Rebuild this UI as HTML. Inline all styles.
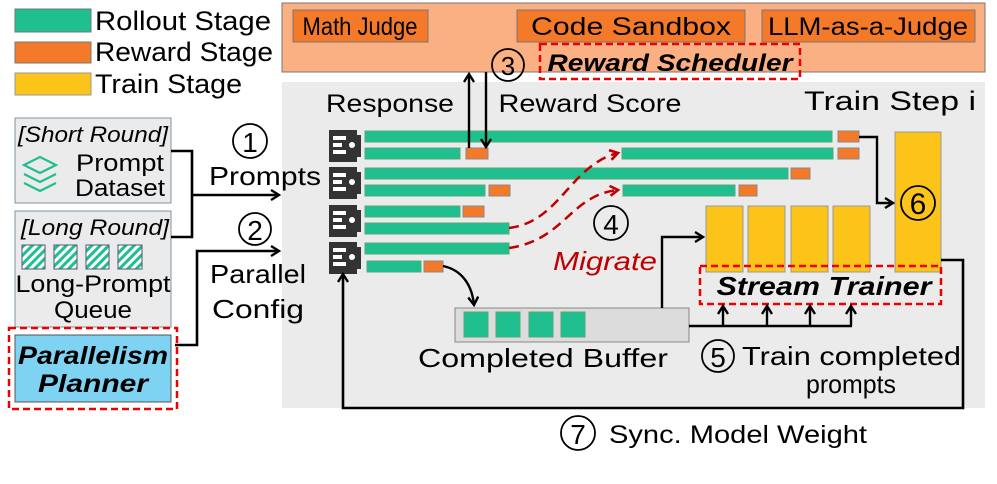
<!DOCTYPE html>
<html><head><meta charset="utf-8"><style>
html,body{margin:0;padding:0;background:#fff;}
svg{display:block;font-family:"Liberation Sans",sans-serif;}
</style></head><body>
<svg width="997" height="484" viewBox="0 0 997 484" xmlns="http://www.w3.org/2000/svg">
<defs>
<marker id="ah" markerWidth="12" markerHeight="12" refX="9" refY="6" orient="auto" markerUnits="userSpaceOnUse"><path d="M1,1 L9,6 L1,11" fill="none" stroke="#000" stroke-width="2.4"/></marker>
<marker id="ahr" markerWidth="12" markerHeight="12" refX="9" refY="6" orient="auto" markerUnits="userSpaceOnUse"><path d="M1,1 L9,6 L1,11" fill="none" stroke="#c00000" stroke-width="2.6"/></marker>
<pattern id="stripe" width="6" height="6" patternUnits="userSpaceOnUse" patternTransform="rotate(45)"><rect width="6" height="6" fill="#1fbf8f"/><rect width="3" height="6" fill="#fff"/></pattern>
<g id="srv"><path d="M0,0 h28 v5 h4 v22 h-4 v5 h-28 z" fill="#333"/><rect x="4" y="6" width="13" height="4" fill="#fff"/><rect x="4" y="13" width="9" height="4" fill="#fff"/><rect x="4" y="20" width="13" height="4" fill="#fff"/><circle cx="23" cy="15" r="3" fill="#fff"/></g>
</defs>

<!-- legend -->
<rect x="15" y="9" width="76" height="23" fill="#1fbf8f" stroke="#777"/>
<rect x="15" y="42" width="76" height="21" fill="#f47a2a" stroke="#777"/>
<rect x="15" y="73" width="76" height="22" fill="#fcc419" stroke="#999"/>
<g font-size="27" fill="#000" lengthAdjust="spacingAndGlyphs">
<text x="95" y="30" textLength="176" lengthAdjust="spacingAndGlyphs">Rollout Stage</text>
<text x="95" y="61" textLength="178" lengthAdjust="spacingAndGlyphs">Reward Stage</text>
<text x="95" y="93" textLength="147" lengthAdjust="spacingAndGlyphs">Train Stage</text>
</g>

<!-- top reward box -->
<rect x="282" y="3" width="703" height="69" fill="#fbb083" stroke="#777"/>
<rect x="293" y="10" width="135" height="32" fill="#f47a2a" stroke="#777"/>
<rect x="517" y="10" width="228" height="32" fill="#f47a2a" stroke="#777"/>
<rect x="762" y="10" width="213" height="32" fill="#f47a2a" stroke="#777"/>
<g font-size="25" text-anchor="middle">
<text x="360" y="35" textLength="115" lengthAdjust="spacingAndGlyphs">Math Judge</text>
<text x="631" y="35" textLength="200" lengthAdjust="spacingAndGlyphs">Code Sandbox</text>
<text x="868" y="35" textLength="200" lengthAdjust="spacingAndGlyphs">LLM-as-a-Judge</text>
</g>
<rect x="540" y="44" width="260" height="35" fill="none" stroke="#e00" stroke-width="2.5" stroke-dasharray="7,4"/>
<text x="670" y="71" font-size="24" font-weight="bold" font-style="italic" text-anchor="middle" textLength="245" lengthAdjust="spacingAndGlyphs">Reward Scheduler</text>

<!-- grey main -->
<rect x="282" y="82" width="703" height="326" fill="#ebebeb"/>
<text x="390" y="112" font-size="25" text-anchor="middle" textLength="128" lengthAdjust="spacingAndGlyphs">Response</text>
<text x="590" y="112" font-size="25" text-anchor="middle" textLength="183" lengthAdjust="spacingAndGlyphs">Reward Score</text>
<text x="890" y="110" font-size="27" text-anchor="middle" textLength="172" lengthAdjust="spacingAndGlyphs">Train Step i</text>
<circle cx="508" cy="65" r="16" fill="none" stroke="#000" stroke-width="1.8"/>
<text x="508" y="75" font-size="26" text-anchor="middle">3</text>

<!-- servers -->
<use href="#srv" x="329" y="130"/>
<use href="#srv" x="329" y="167"/>
<use href="#srv" x="329" y="205"/>
<use href="#srv" x="329" y="242"/>

<g fill="#1fbf8f" stroke="#5a7" stroke-width="1">
<rect x="365" y="131" width="467" height="11"/>
<rect x="365" y="148" width="95" height="11"/>
<rect x="622" y="148" width="211" height="11"/>
<rect x="365" y="168" width="423" height="11"/>
<rect x="365" y="185" width="120" height="11"/>
<rect x="623" y="185" width="112" height="11"/>
<rect x="365" y="206" width="95" height="11"/>
<rect x="365" y="223" width="144" height="11"/>
<rect x="365" y="243" width="144" height="11"/>
<rect x="367" y="261" width="54" height="11"/>
</g>
<g fill="#f47a2a" stroke="#888" stroke-width="1">
<rect x="838" y="131" width="21" height="11"/>
<rect x="466" y="148" width="22" height="11"/>
<rect x="838" y="148" width="21" height="11"/>
<rect x="791" y="168" width="19" height="11"/>
<rect x="489" y="185" width="21" height="11"/>
<rect x="739" y="185" width="18" height="11"/>
<rect x="463" y="206" width="21" height="11"/>
<rect x="424" y="261" width="19" height="11"/>
</g>

<!-- response arrows -->
<line x1="469" y1="148" x2="469" y2="74" stroke="#000" stroke-width="2.4" marker-end="url(#ah)"/>
<line x1="486" y1="72" x2="486" y2="147" stroke="#000" stroke-width="2.4" marker-end="url(#ah)"/>

<!-- trainers -->
<rect x="895" y="132" width="46" height="140" fill="#fcc419" stroke="#999"/>
<rect x="706" y="206" width="37" height="66" fill="#fcc419" stroke="#999"/>
<rect x="748" y="206" width="37" height="66" fill="#fcc419" stroke="#999"/>
<rect x="791" y="206" width="37" height="66" fill="#fcc419" stroke="#999"/>
<rect x="833" y="206" width="37" height="66" fill="#fcc419" stroke="#999"/>
<circle cx="918" cy="203" r="17" fill="none" stroke="#000" stroke-width="1.8"/>
<text x="918" y="214" font-size="30" text-anchor="middle">6</text>
<rect x="700" y="266" width="241" height="38" fill="none" stroke="#e00" stroke-width="2.5" stroke-dasharray="7,4"/>
<text x="824" y="295" font-size="26" font-weight="bold" font-style="italic" text-anchor="middle" textLength="215" lengthAdjust="spacingAndGlyphs">Stream Trainer</text>
<polyline points="859,137 877,137 877,203 893,203" fill="none" stroke="#000" stroke-width="2.4" marker-end="url(#ah)"/>

<!-- migrate -->
<path d="M509,228 C560,222 570,165 618,153" fill="none" stroke="#c00000" stroke-width="2.5" stroke-dasharray="10,6" marker-end="url(#ahr)"/>
<path d="M509,248 C565,240 570,195 618,190" fill="none" stroke="#c00000" stroke-width="2.5" stroke-dasharray="10,6" marker-end="url(#ahr)"/>
<circle cx="611" cy="223" r="17" fill="none" stroke="#000" stroke-width="1.8"/>
<text x="611" y="234" font-size="28" text-anchor="middle">4</text>
<text x="605" y="270" font-size="26" font-style="italic" fill="#c00000" text-anchor="middle" textLength="104" lengthAdjust="spacingAndGlyphs">Migrate</text>

<!-- buffer -->
<path d="M443,266 C462,270 472,285 474,305" fill="none" stroke="#000" stroke-width="2.4" marker-end="url(#ah)"/>
<rect x="455" y="308" width="234" height="34" fill="#dcdcdc" stroke="#888"/>
<g fill="#1fbf8f" stroke="#5a7">
<rect x="464" y="312" width="24" height="25"/><rect x="496" y="312" width="24" height="25"/><rect x="529" y="312" width="24" height="25"/><rect x="561" y="312" width="24" height="25"/>
</g>
<polyline points="662,308 662,237 703,237" fill="none" stroke="#000" stroke-width="2.4" marker-end="url(#ah)"/>
<polyline points="689,326 852,326" fill="none" stroke="#000" stroke-width="2.4"/>
<g stroke="#000" stroke-width="2.4" marker-end="url(#ah)">
<line x1="723" y1="326" x2="723" y2="306"/><line x1="767" y1="326" x2="767" y2="306"/><line x1="810" y1="326" x2="810" y2="306"/><line x1="851" y1="326" x2="851" y2="306"/>
</g>
<text x="418" y="367" font-size="26" textLength="250" lengthAdjust="spacingAndGlyphs">Completed  Buffer</text>
<circle cx="718" cy="356" r="16" fill="none" stroke="#000" stroke-width="1.8"/>
<text x="718" y="367" font-size="28" text-anchor="middle">5</text>
<text x="742" y="365" font-size="26" textLength="219" lengthAdjust="spacingAndGlyphs">Train completed</text>
<text x="851" y="393" font-size="26" text-anchor="middle" textLength="90" lengthAdjust="spacingAndGlyphs">prompts</text>

<!-- sync -->
<polyline points="941,260 963,260 963,408 343,408 343,274" fill="none" stroke="#000" stroke-width="2.6" marker-end="url(#ah)"/>
<circle cx="578" cy="433" r="17" fill="none" stroke="#000" stroke-width="1.8"/>
<text x="578" y="444" font-size="28" text-anchor="middle">7</text>
<text x="609" y="443" font-size="25" textLength="258" lengthAdjust="spacingAndGlyphs">Sync. Model Weight</text>

<!-- left side -->
<rect x="15" y="118" width="156" height="85" fill="#ebebeb" stroke="#8090a0"/>
<text x="93" y="142" font-size="22" font-style="italic" text-anchor="middle" textLength="150" lengthAdjust="spacingAndGlyphs">[Short Round]</text>
<g fill="none" stroke="#1fbf8f" stroke-width="2.2">
<path d="M24,165 L40,157 L56,165 L40,173 Z"/><path d="M24,174 L40,182 L56,174"/><path d="M24,183 L40,191 L56,183"/>
</g>
<text x="120" y="171" font-size="24" text-anchor="middle" textLength="88" lengthAdjust="spacingAndGlyphs">Prompt</text>
<text x="120" y="196" font-size="24" text-anchor="middle" textLength="90" lengthAdjust="spacingAndGlyphs">Dataset</text>

<rect x="15" y="211" width="156" height="116" fill="#ebebeb" stroke="#8090a0"/>
<text x="95" y="235" font-size="22" font-style="italic" text-anchor="middle" textLength="148" lengthAdjust="spacingAndGlyphs">[Long Round]</text>
<g stroke="#557" stroke-width="1"><rect x="22" y="245" width="23" height="24" fill="url(#stripe)"/><rect x="54" y="245" width="23" height="24" fill="url(#stripe)"/><rect x="86" y="245" width="23" height="24" fill="url(#stripe)"/><rect x="118" y="245" width="24" height="24" fill="url(#stripe)"/></g>
<text x="93" y="292" font-size="24" text-anchor="middle" textLength="155" lengthAdjust="spacingAndGlyphs">Long-Prompt</text>
<text x="93" y="318" font-size="24" text-anchor="middle" textLength="78" lengthAdjust="spacingAndGlyphs">Queue</text>

<rect x="15" y="335" width="156" height="67" fill="#7fd3f2" stroke="#555"/>
<rect x="9" y="328" width="168" height="81" fill="none" stroke="#e00" stroke-width="2.5" stroke-dasharray="7,4"/>
<text x="93" y="364" font-size="25" font-weight="bold" font-style="italic" text-anchor="middle" textLength="150" lengthAdjust="spacingAndGlyphs">Parallelism</text>
<text x="93" y="392" font-size="25" font-weight="bold" font-style="italic" text-anchor="middle" textLength="110" lengthAdjust="spacingAndGlyphs">Planner</text>

<polyline points="171,151 192,151 192,237 171,237" fill="none" stroke="#000" stroke-width="2.6"/>
<line x1="192" y1="195" x2="279" y2="195" stroke="#000" stroke-width="2.6" marker-end="url(#ah)"/>
<circle cx="250" cy="141" r="17" fill="none" stroke="#000" stroke-width="1.8"/>
<text x="250" y="152" font-size="28" text-anchor="middle">1</text>
<text x="265" y="185" font-size="26" text-anchor="middle" textLength="112" lengthAdjust="spacingAndGlyphs">Prompts</text>
<polyline points="175,345 197,345 197,251 279,251" fill="none" stroke="#000" stroke-width="2.6" marker-end="url(#ah)"/>
<circle cx="255" cy="229" r="16" fill="none" stroke="#000" stroke-width="1.8"/>
<text x="255" y="240" font-size="28" text-anchor="middle">2</text>
<text x="258" y="283" font-size="26" text-anchor="middle" textLength="96" lengthAdjust="spacingAndGlyphs">Parallel</text>
<text x="258" y="318" font-size="26" text-anchor="middle" textLength="92" lengthAdjust="spacingAndGlyphs">Config</text>
</svg>
</body></html>
